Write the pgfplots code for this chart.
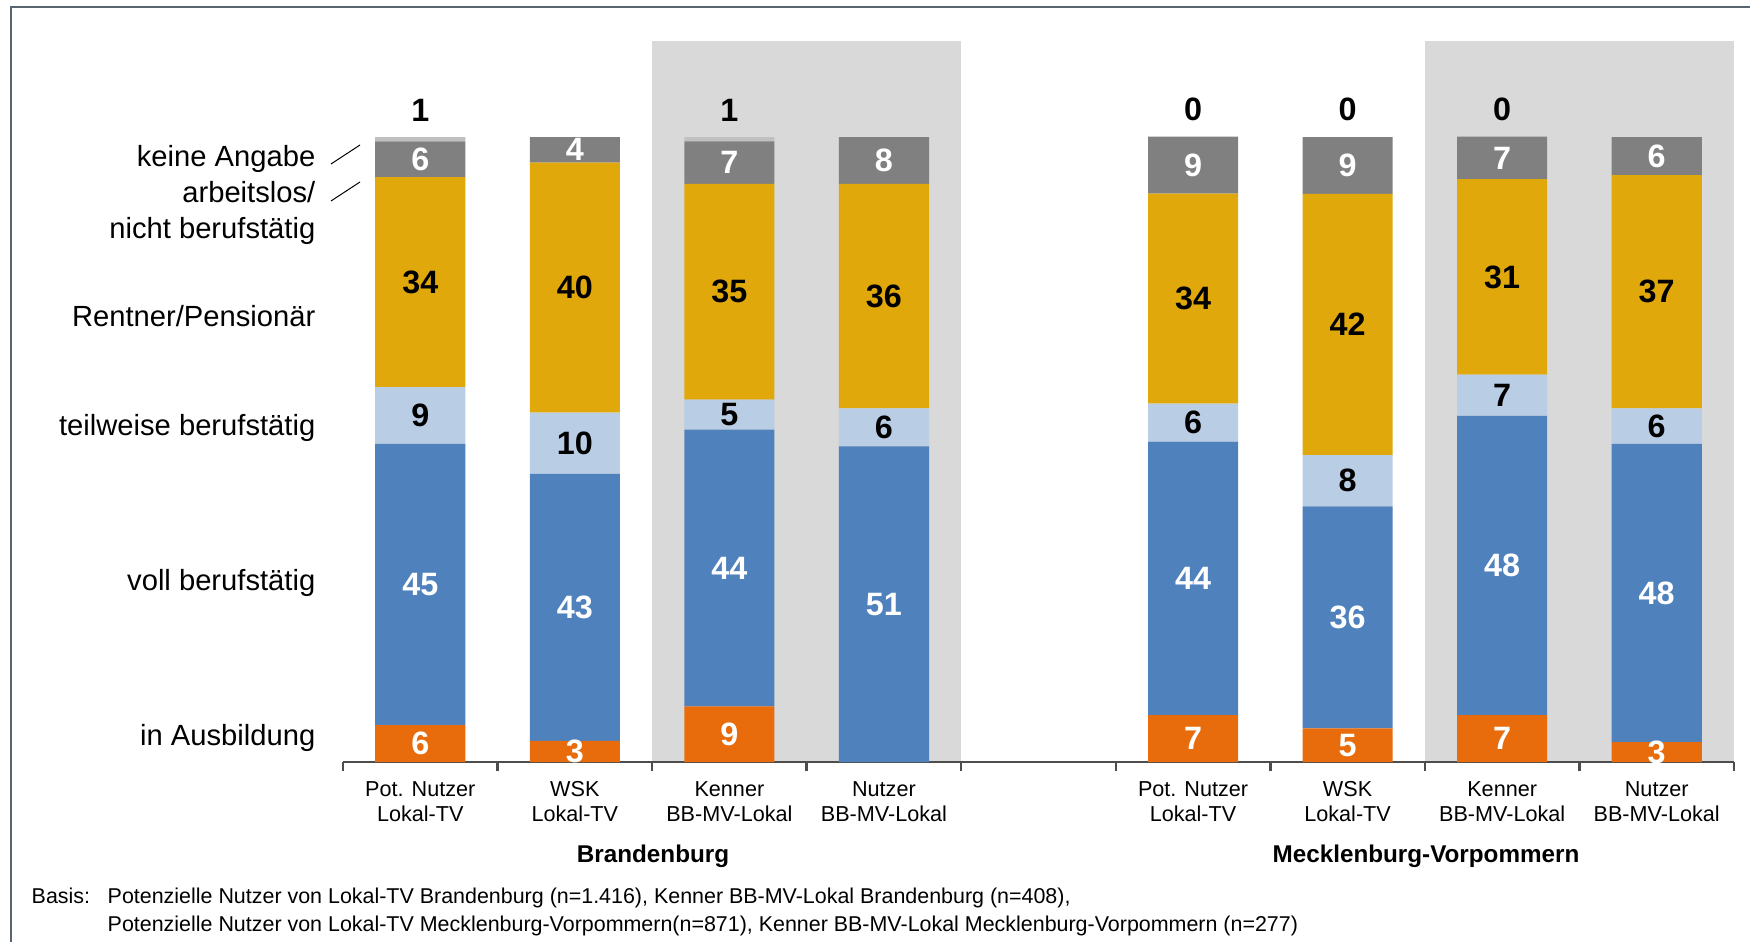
\documentclass[border=0pt]{standalone}
\usepackage{pgfplots}
\usepackage{pgfplotstable}
\pgfplotsset{compat=1.18}
\usepackage{fontspec}
\setmainfont{Liberation Sans}
\definecolor{cAus}{HTML}{E86C0C}
\definecolor{cVoll}{HTML}{4F81BD}
\definecolor{cTeil}{HTML}{B9CDE5}
\definecolor{cRent}{HTML}{E0A80A}
\definecolor{cArb}{HTML}{808080}
\definecolor{cKA}{HTML}{C0C0C0}
\definecolor{shade}{HTML}{D9D9D9}
\definecolor{frame}{HTML}{5A6470}
\definecolor{axgray}{HTML}{4D4D4D}

\pgfplotstableread{
x aus voll teil rent arb ka
0 5.9 45.0 9.1 33.6 5.7 0.7
1 3.4 42.7 9.8 40.0 4.1 0
2 8.9 44.3 4.8 34.5 6.8 0.7
3 0 50.5 6.1 35.9 7.5 0
5 7.5 43.75 6.1 33.6 9.1 0
6 5.4 35.5 8.2 41.8 9.1 0
7 7.5 47.9 6.6 31.25 6.8 0
8 3.2 47.7 5.7 37.3 6.1 0
}\bars

\pgfplotstableread{
x y lab
0 2.95 6
0 28.4 45
0 96.45 6
1 1.7 3
1 24.75 43
1 97.95 4
2 4.45 9
2 31.05 44
2 95.9 7
3 25.25 51
3 96.25 8
5 3.75 7
5 29.4 44
5 95.5 9
6 2.7 5
6 23.15 36
6 95.45 9
7 3.75 7
7 31.45 48
7 96.65 7
8 1.6 3
8 27.05 48
8 96.95 6
}\whitelabels

\pgfplotstableread{
x y lab
0 55.45 9
0 76.8 34
0 104.3 1
1 51.0 10
1 75.9 40
2 55.6 5
2 75.25 35
2 104.3 1
3 53.55 6
3 74.55 36
5 54.3 6
5 74.15 34
5 104.5 0
6 45.0 8
6 70.0 42
6 104.5 0
7 58.7 7
7 77.6 31
7 104.5 0
8 53.75 6
8 75.25 37
}\blacklabels

\pgfplotsset{base/.style={at={(34.3mm,17.9mm)}, anchor=south west,
  scale only axis, width=139.1mm, height=72.125mm,
  xmin=-0.5, xmax=8.5, ymin=0, ymax=115.4, clip=false}}

\begin{document}
\begin{tikzpicture}
\useasboundingbox (0,0) rectangle (175mm,94.1mm);
\fill[white] (0,0) rectangle (175mm,94.1mm);
% frame
\draw[frame, line width=0.22mm] (1.1mm,-1mm) -- (1.1mm,93.4mm) -- (176mm,93.4mm);

% background shading
\begin{axis}[base, hide axis]
\addplot[fill=shade, draw=none] coordinates {(1.5,0) (1.5,115.4) (3.5,115.4) (3.5,0)} -- cycle;
\addplot[fill=shade, draw=none] coordinates {(6.5,0) (6.5,115.4) (8.5,115.4) (8.5,0)} -- cycle;
\end{axis}

% bars
\begin{axis}[base, ybar stacked, bar width=0.583,
  axis x line=bottom, axis y line=none, ytick=\empty,
  axis line style={draw=axgray, line width=0.25mm, -},
  xtick={-0.5,0.5,1.5,2.5,3.5,4.5,5.5,6.5,7.5,8.5}, xticklabels={},
  tick align=outside, major tick length=0.9mm,
  every tick/.style={draw=axgray, line width=0.25mm},
  extra x ticks={0,1,2,3,5,6,7,8},
  extra x tick labels={{Pot. Nutzer\\Lokal-TV},{WSK\\Lokal-TV},{Kenner\\BB-MV-Lokal},{Nutzer\\BB-MV-Lokal},{Pot. Nutzer\\Lokal-TV},{WSK\\Lokal-TV},{Kenner\\BB-MV-Lokal},{Nutzer\\BB-MV-Lokal}},
  extra x tick style={major tick length=0pt,
    tick label style={font=\fontsize{6.15}{7.1}\selectfont, align=center, anchor=north, inner sep=0pt, yshift=-1.9mm}},
]
\addplot[fill=cAus, draw=none] table[x=x, y=aus] {\bars};
\addplot[fill=cVoll, draw=none] table[x=x, y=voll] {\bars};
\addplot[fill=cTeil, draw=none] table[x=x, y=teil] {\bars};
\addplot[fill=cRent, draw=none] table[x=x, y=rent] {\bars};
\addplot[fill=cArb, draw=none] table[x=x, y=arb] {\bars};
\addplot[fill=cKA, draw=none] table[x=x, y=ka] {\bars};
\end{axis}

% value labels
\begin{axis}[base, hide axis]
\addplot[draw=none, nodes near coords, point meta=explicit symbolic,
  every node near coord/.append style={anchor=center, text=white, inner sep=0pt,
    font=\bfseries\fontsize{9.2}{11}\selectfont}]
  table[x=x, y=y, meta=lab] {\whitelabels};
\addplot[draw=none, nodes near coords, point meta=explicit symbolic,
  every node near coord/.append style={anchor=center, text=black, inner sep=0pt,
    font=\bfseries\fontsize{9.2}{11}\selectfont}]
  table[x=x, y=y, meta=lab] {\blacklabels};
\end{axis}

% left category labels
\begin{scope}[every node/.style={anchor=base east, inner sep=0pt, font=\fontsize{8.3}{10}\selectfont}]
\node at (31.6mm,77.45mm) {keine Angabe};
\node at (31.6mm,73.85mm) {arbeitslos/};
\node at (31.6mm,70.25mm) {nicht berufstätig};
\node at (31.6mm,61.45mm) {Rentner/Pensionär};
\node at (31.6mm,50.55mm) {teilweise berufstätig};
\node at (31.6mm,35.05mm) {voll berufstätig};
\node at (31.6mm,19.55mm) {in Ausbildung};
\end{scope}
\draw[black, line width=0.1mm] (33.1mm,77.7mm) -- (36.0mm,79.6mm);
\draw[black, line width=0.1mm] (33.1mm,74.0mm) -- (36.0mm,75.9mm);

% group labels
\node[anchor=base, inner sep=0pt, font=\bfseries\fontsize{6.9}{8}\selectfont] at (65.3mm,7.85mm) {Brandenburg};
\node[anchor=base, inner sep=0pt, font=\bfseries\fontsize{6.9}{8}\selectfont] at (142.6mm,7.85mm) {Mecklenburg-Vorpommern};

% footnote
\begin{scope}[every node/.style={anchor=base west, inner sep=0pt, font=\fontsize{6.1}{7}\selectfont}]
\node at (3.1mm,3.75mm) {Basis:};
\node at (10.7mm,3.75mm) {Potenzielle Nutzer von Lokal-TV Brandenburg (n=1.416), Kenner BB-MV-Lokal Brandenburg (n=408),};
\node at (10.7mm,0.95mm) {Potenzielle Nutzer von Lokal-TV Mecklenburg-Vorpommern(n=871), Kenner BB-MV-Lokal Mecklenburg-Vorpommern (n=277)};
\end{scope}
\end{tikzpicture}
\end{document}
